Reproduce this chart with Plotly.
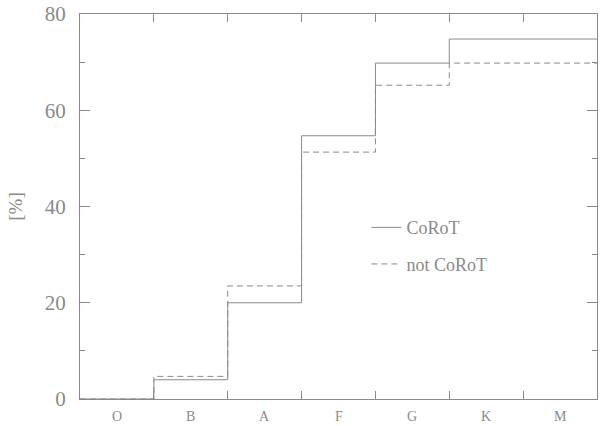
import plotly.graph_objects as go

categories = ["O", "B", "A", "F", "G", "K", "M"]
corot = [0.0, 4.0, 20.0, 54.7, 69.8, 74.8, 74.8]
not_corot = [0.0, 4.7, 23.5, 51.3, 65.2, 69.8, 69.8]

edges = list(range(len(categories) + 1))
centers = [i + 0.5 for i in range(len(categories))]

grey = "#8a8a8a"
font_family = "Liberation Serif"

fig = go.Figure()
fig.add_trace(go.Scatter(
    x=edges, y=corot + [corot[-1]], mode="lines", line=dict(shape="hv", color=grey, width=1),
    name="CoRoT", legend="legend", showlegend=True))
fig.add_trace(go.Scatter(
    x=edges, y=not_corot + [not_corot[-1]], mode="lines",
    line=dict(shape="hv", color=grey, width=1, dash="6px,4px"),
    name="not CoRoT", legend="legend2", showlegend=True))

for c, label in zip(centers, categories):
    fig.add_annotation(x=c, y=0, xref="x", yref="paper", text=label, showarrow=False,
                       yanchor="top", yshift=-8, font=dict(size=14, color=grey, family=font_family))

fig.update_layout(
    width=600, height=426,
    showlegend=True,
    margin=dict(l=80, r=3, t=14, b=27),
    plot_bgcolor="white", paper_bgcolor="white",
    font=dict(family=font_family, color=grey),
    legend=dict(x=0.554, y=0.445, xanchor="left", yanchor="middle", bgcolor="rgba(0,0,0,0)",
                itemwidth=30, font=dict(size=18, color=grey)),
    legend2=dict(x=0.554, y=0.35, xanchor="left", yanchor="middle", bgcolor="rgba(0,0,0,0)",
                 itemwidth=30, font=dict(size=18, color=grey)),
    xaxis=dict(range=[0, 7], tickvals=edges, ticktext=[""] * len(edges), ticks="inside", ticklen=8,
               tickcolor=grey, showgrid=False, automargin=False,
               zeroline=False, showline=True, linecolor=grey, linewidth=1, mirror="ticks"),
    yaxis=dict(range=[0, 80], dtick=20, ticks="inside", ticklen=10, tickcolor=grey,
               showgrid=False, zeroline=False, showline=True, linecolor=grey, linewidth=1,
               mirror="ticks", tickfont=dict(size=21, color=grey), automargin=False,
               ticklabelstandoff=9,
               title=dict(text="[%]", font=dict(size=19, color=grey), standoff=17),
               minor=dict(dtick=10, ticks="inside", ticklen=5, tickcolor=grey, showgrid=False)),
)

fig.write_html("out.html", config={"displayModeBar": False},
               post_script="document.body.style.margin='0';")
